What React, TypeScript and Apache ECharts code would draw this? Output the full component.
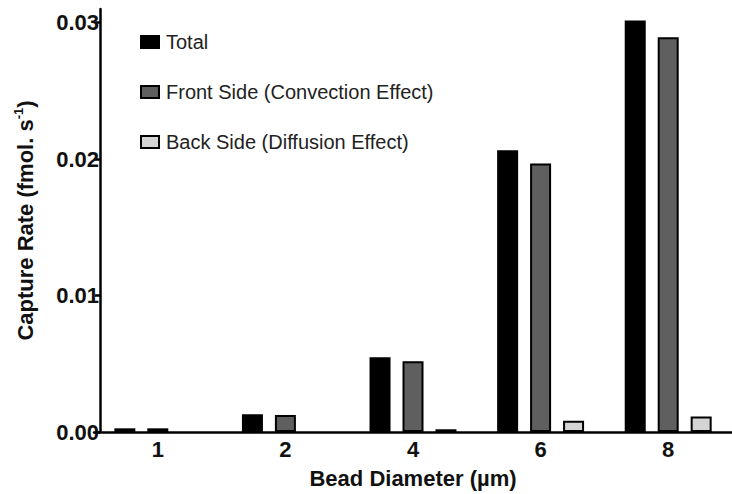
import React, { useEffect, useRef } from "react";
import * as echarts from "echarts";

const categories = ["1", "2", "4", "6", "8"];
const totalValues = [0.00027, 0.0013, 0.00548, 0.02065, 0.03016];
const frontValues = [0.00027, 0.00124, 0.00518, 0.01968, 0.02893];
const backValues = [0, 0, 0.0002, 0.00083, 0.00113];
const yTicks = [0, 0.01, 0.02, 0.03];
const seriesNames = ["Total", "Front Side (Convection Effect)", "Back Side (Diffusion Effect)"];

const FONT = "'Liberation Sans', Arial, Helvetica, sans-serif";

const toItems = (vals: number[]) =>
  vals.map((v) => (v === 0 ? { value: v, itemStyle: { borderWidth: 0, opacity: 0 } } : v));

export default function App() {
  const ref = useRef<HTMLDivElement>(null);
  useEffect(() => {
    if (!ref.current) return;
    const chart = echarts.init(ref.current, undefined, { renderer: "svg" });
    const barBase = {
      type: "bar" as const,
      barWidth: 21,
      barGap: "57%",
    };
    chart.setOption({
      animation: false,
      backgroundColor: "#fff",
      textStyle: { fontFamily: FONT },
      grid: { left: 94, top: 9, width: 649, bottom: 61, containLabel: false },
      legend: {
        orient: "vertical",
        left: 135,
        top: 27,
        itemWidth: 18,
        itemHeight: 12,
        itemGap: 30,
        icon: "rect",
        textStyle: { fontFamily: FONT, fontSize: 20, color: "#222", lineHeight: 20, padding: [0, 0, 0, 2] },
        data: seriesNames,
      },
      xAxis: {
        type: "category",
        data: categories,
        z: 10,
        axisLine: { lineStyle: { color: "#000", width: 2.5 } },
        axisTick: { show: false },
        axisLabel: { fontFamily: FONT, fontSize: 22, fontWeight: "bold", color: "#111", margin: 6 },
        name: "Bead Diameter (µm)",
        nameLocation: "middle",
        nameGap: 35,
        nameTextStyle: { fontFamily: FONT, fontSize: 22, fontWeight: "bold", color: "#111" },
      },
      yAxis: {
        type: "value",
        min: 0,
        max: 0.031,
        interval: 0.01,
        offset: -6,
        splitLine: { show: false },
        axisLine: { show: true, lineStyle: { color: "#000", width: 2.5 } },
        axisTick: { show: true, length: 5, lineStyle: { color: "#000", width: 2.5 }, customValues: yTicks },
        axisLabel: {
          fontFamily: FONT,
          fontSize: 22,
          fontWeight: "bold",
          color: "#111",
          margin: 1,
          customValues: yTicks,
          formatter: (v: number) => v.toFixed(2),
        },
        name: "Capture Rate (fmol. s{sup|-1})",
        nameLocation: "middle",
        nameGap: 62,
        nameTextStyle: {
          fontFamily: FONT,
          fontSize: 22,
          fontWeight: "bold",
          color: "#111",
          lineHeight: 26,
          rich: {
            sup: { fontFamily: FONT, fontSize: 13, fontWeight: "bold", color: "#111", verticalAlign: "top", lineHeight: 26, padding: [0, 0, 11, 0] },
          },
        },
      },
      series: [
        { ...barBase, name: seriesNames[0], data: toItems(totalValues), itemStyle: { color: "#000", borderColor: "#000", borderWidth: 2 } },
        { ...barBase, name: seriesNames[1], data: toItems(frontValues), itemStyle: { color: "#5f5f5f", borderColor: "#000", borderWidth: 2 } },
        { ...barBase, name: seriesNames[2], data: toItems(backValues), itemStyle: { color: "#d4d4d4", borderColor: "#000", borderWidth: 2 } },
      ],
    });
    return () => chart.dispose();
  }, []);
  return <div ref={ref} style={{ width: 732, height: 494, position: "absolute", left: 0, top: 0 }} />;
}
